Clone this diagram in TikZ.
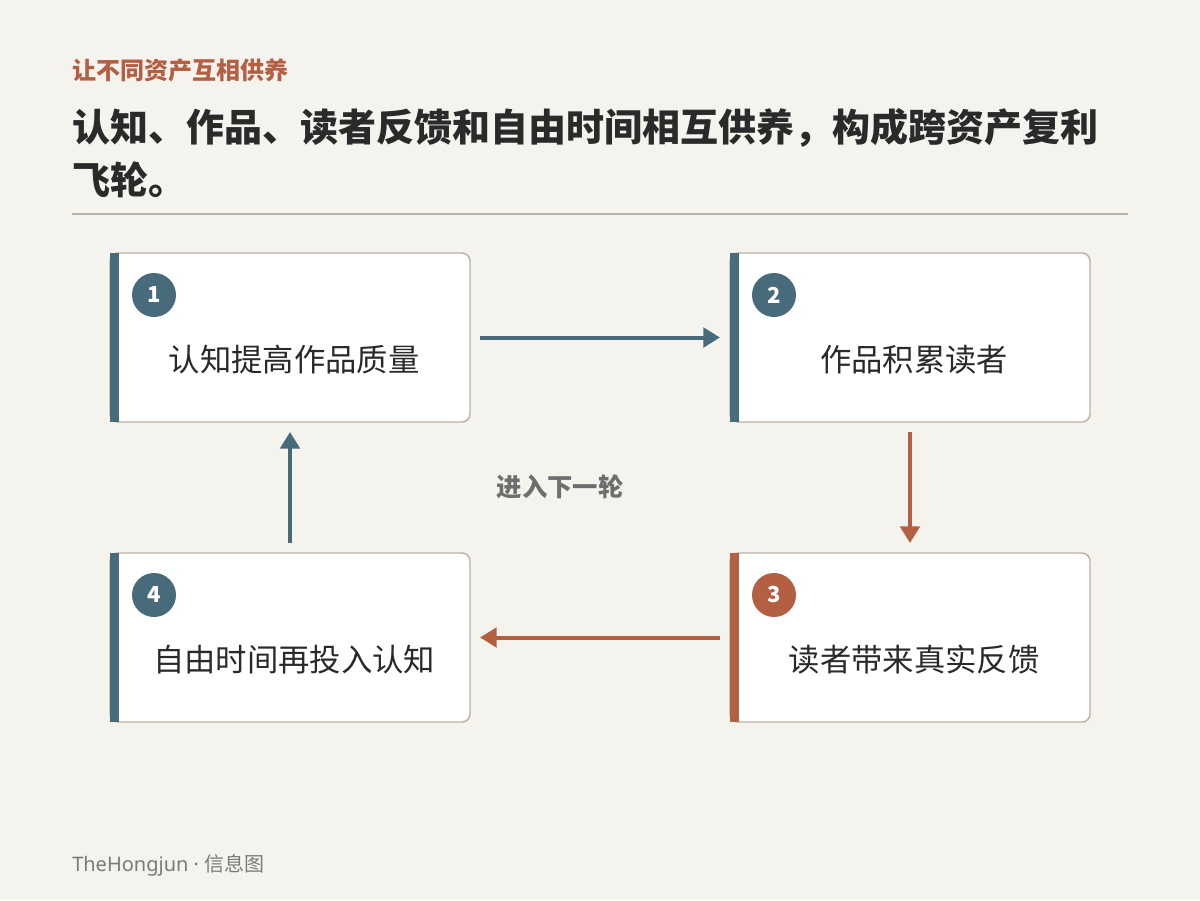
\documentclass[tikz,border=0pt]{standalone}
\usepackage{fontspec}
\setmainfont{Noto Sans CJK SC}
\newfontfamily\latinfont{Noto Sans}
\usetikzlibrary{arrows.meta}
\definecolor{bg}{HTML}{F5F3EE}
\definecolor{blueA}{HTML}{476B7B}
\definecolor{orangeA}{HTML}{B35F42}
\definecolor{cardline}{HTML}{BAB2A6}
\definecolor{ink}{HTML}{2A2A2A}
\definecolor{midgray}{HTML}{6E6E6E}
\definecolor{footgray}{HTML}{7A7A7A}
\begin{document}
\begin{tikzpicture}[x=0.75pt,y=-0.75pt,
  card/.style={draw=cardline, line width=1.1pt, fill=white, rounded corners=6pt,
    minimum width=270pt, minimum height=126.75pt, inner sep=0pt, outer sep=0pt},
  cardtext/.style={font=\fontsize{23.5pt}{27pt}\selectfont, text=ink, inner sep=0pt},
  num/.style={circle, minimum size=33pt, inner sep=0pt, text=white,
    font=\fontsize{16.5pt}{18pt}\selectfont\bfseries},
  flow/.style={line width=3pt, shorten <=7.5pt, shorten >=7.5pt,
    -{Triangle[length=12.5pt,width=14.5pt]}},
]
\useasboundingbox[fill=bg] (0,0) rectangle (1200,900);

% header
\node[anchor=west, inner sep=0pt, text=orangeA, font=\fontsize{18pt}{20pt}\selectfont\bfseries]
  (sub) at (72,70) {让不同资产互相供养};
\node[anchor=west, inner sep=0pt, text=ink, font=\fontsize{28.5pt}{32pt}\selectfont\bfseries]
  (title1) at (72,128) {认知、作品、读者反馈和自由时间相互供养，构成跨资产复利};
\node[anchor=west, inner sep=0pt, text=ink, font=\fontsize{28.5pt}{32pt}\selectfont\bfseries]
  (title2) at (72,180) {飞轮。};
\draw[cardline, line width=1.5pt] (72,214) -- (1128,214);

% cards
\node[card] (b1) at (290,337.5) {};
\node[card] (b2) at (910,337.5) {};
\node[card] (b3) at (910,637.5) {};
\node[card] (b4) at (290,637.5) {};
\fill[blueA] (b1.north west) rectangle ([xshift=6.75pt]b1.south west);
\fill[blueA] (b2.north west) rectangle ([xshift=6.75pt]b2.south west);
\fill[orangeA] (b3.north west) rectangle ([xshift=6.75pt]b3.south west);
\fill[blueA] (b4.north west) rectangle ([xshift=6.75pt]b4.south west);

\node[num, fill=blueA] (n1) at (154,295) {1};
\node[num, fill=blueA] (n2) at (774,295) {2};
\node[num, fill=orangeA] (n3) at (774,595) {3};
\node[num, fill=blueA] (n4) at (154,595) {4};

\node[cardtext] (t1) at (294,360) {认知提高作品质量};
\node[cardtext] (t2) at (914,360) {作品积累读者};
\node[cardtext] (t3) at (914,660) {读者带来真实反馈};
\node[cardtext] (t4) at (294,660) {自由时间再投入认知};

% connectors
\draw[flow, blueA] (b1.east) -- (b2.west);
\draw[flow, orangeA] (b2.south) -- (b3.north);
\draw[flow, orangeA] (b3.west) -- (b4.east);
\draw[flow, blueA] (b4.north) -- (b1.south);

\node[inner sep=0pt, text=midgray, font=\fontsize{19pt}{22pt}\selectfont\bfseries]
  (loop) at (560,487) {进入下一轮};

% footer
\node[anchor=west, inner sep=0pt, text=footgray, font=\fontsize{15pt}{18pt}\selectfont]
  (foot) at (72,865) {{\latinfont TheHongjun · }信息图};
\end{tikzpicture}
\end{document}
